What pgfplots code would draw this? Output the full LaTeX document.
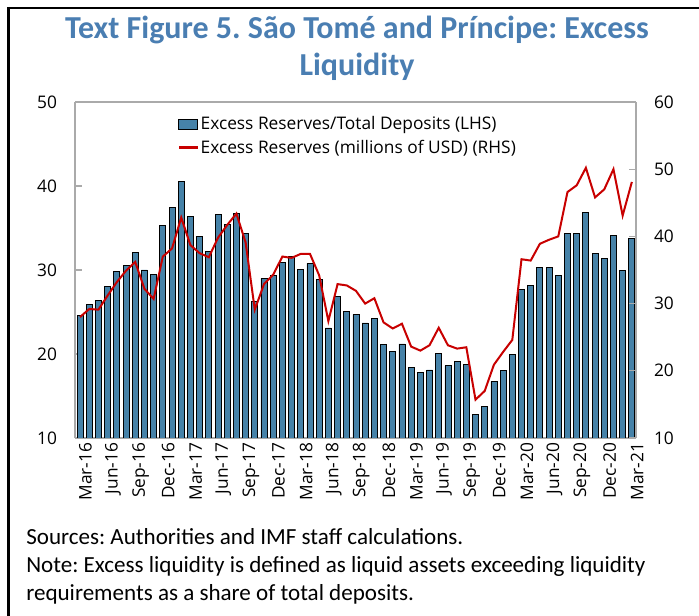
\documentclass[border=0pt]{standalone}
\usepackage{pgfplots}
\pgfplotsset{compat=1.18}
\usepackage{fontspec}
\setmainfont{Carlito}
\newfontfamily\segoe{Open Sans}
\definecolor{barblue}{RGB}{70,130,168}
\definecolor{titleblue}{RGB}{74,126,178}
\definecolor{linered}{RGB}{200,0,0}
\definecolor{axgray}{RGB}{170,170,170}
\frenchspacing

\pgfplotstableread{
x bar line
0 24.6 28.0
1 25.9 29.2
2 26.4 29.1
3 28.0 31.2
4 29.8 33.2
5 30.5 34.9
6 32.1 36.2
7 30.0 32.2
8 29.5 30.7
9 35.3 37.0
10 37.4 38.2
11 40.5 42.8
12 36.4 38.7
13 34.0 37.5
14 32.2 36.9
15 36.6 39.8
16 35.4 41.7
17 36.7 43.4
18 34.3 39.1
19 26.3 29.1
20 29.0 32.9
21 29.4 34.3
22 30.9 37.0
23 31.6 36.8
24 30.1 37.4
25 30.8 37.4
26 28.9 34.2
27 23.1 27.4
28 26.8 32.9
29 25.1 32.7
30 24.7 31.9
31 23.7 30.0
32 24.2 30.8
33 21.1 27.2
34 20.3 26.3
35 21.2 27.0
36 18.4 23.6
37 17.8 23.0
38 18.1 23.8
39 20.1 26.4
40 18.6 23.8
41 19.1 23.3
42 18.8 23.5
43 12.8 15.7
44 13.8 17.0
45 16.7 20.9
46 18.0 22.8
47 19.9 24.6
48 27.7 36.6
49 28.2 36.4
50 30.3 38.9
51 30.3 39.5
52 29.4 40.0
53 34.3 46.6
54 34.4 47.6
55 36.8 50.2
56 32.0 45.8
57 31.4 47.0
58 34.1 50.0
59 29.9 43.1
60 33.8 48.1
}\datatable

\pgfplotsset{
  common/.style={
    scale only axis,
    width=420.75pt, height=252pt,
    at={(56.25pt,133.5pt)}, anchor=south west,
    xmin=-0.55, xmax=60.45,
    axis line style={axgray, line width=0.8pt},
    major tick style={axgray, line width=0.8pt},
    tick align=inside,
    major tick length=5pt,
    /pgf/number format/assume math mode=true,
    tick label style={font=\segoe\fontsize{13}{15}\selectfont, black},
  }
}

\begin{document}
\begin{tikzpicture}
\path[use as bounding box] (0,0) rectangle (524.25pt,462pt);
% frame
\draw[line width=1.6pt] (6pt,456pt) -- (524.25pt,456pt);
\draw[line width=1.6pt] (6.4pt,456.8pt) -- (6.4pt,0pt);
% title
\node[anchor=base, text=titleblue, font=\bfseries\fontsize{24}{28}\selectfont] at (267.75pt,433pt) {Text Figure 5. São Tomé and Príncipe: Excess};
\node[anchor=base, text=titleblue, font=\bfseries\fontsize{24}{28}\selectfont] at (267.75pt,405pt) {Liquidity};
% notes
\node[anchor=base west, inner sep=0pt, font=\fontsize{17.3}{20}\selectfont] at (19.5pt,53.5pt) {Sources: Authorities and IMF staff calculations.};
\node[anchor=base west, inner sep=0pt, font=\fontsize{17.3}{20}\selectfont] at (19.5pt,32.5pt) {Note: Excess liquidity is defined as liquid assets exceeding liquidity};
\node[anchor=base west, inner sep=0pt, font=\fontsize{17.3}{20}\selectfont] at (19.5pt,11.5pt) {requirements as a share of total deposits.};

\begin{axis}[common,
  ymin=10, ymax=50, ytick={10,20,30,40,50},
  axis y line*=left, axis x line*=bottom,
  xtick={0,3,...,60},
  xticklabels={Mar-16,Jun-16,Sep-16,Dec-16,Mar-17,Jun-17,Sep-17,Dec-17,Mar-18,Jun-18,Sep-18,Dec-18,Mar-19,Jun-19,Sep-19,Dec-19,Mar-20,Jun-20,Sep-20,Dec-20,Mar-21},
  x tick label style={rotate=90, anchor=east},
  major x tick style={draw=none},
  yticklabel style={xshift=-10pt},
  xticklabel style={yshift=-4pt},
  clip=true,
]
\addplot[ybar, bar width=4.5pt, fill=barblue, draw=black, line width=0.6pt] table[x=x,y=bar] {\datatable};
\end{axis}

\begin{axis}[common,
  ymin=10, ymax=60, ytick={10,20,30,40,50,60},
  axis y line*=right, axis x line*=top,
  xtick=\empty,
  yticklabel style={xshift=10pt},
  legend style={at={(0.184,0.965)}, anchor=north west, draw=none, fill=none,
    font=\segoe\fontsize{13}{15}\selectfont, row sep=2pt, inner sep=0pt,
    /tikz/every even column/.append style={column sep=0pt}},
  legend cell align=left,
]
\addlegendimage{legend image code/.code={\draw[fill=barblue,draw=black,line width=0.6pt] (0pt,-4pt) rectangle (14pt,4pt);}}
\addlegendentry{Excess Reserves/Total Deposits (LHS)}
\addlegendimage{legend image code/.code={\fill[linered] (0pt,-0.75pt) rectangle (14pt,0.75pt);}}
\addlegendentry{Excess Reserves (millions of USD) (RHS)}
\addplot[linered, line width=1.5pt, forget plot] table[x=x,y=line] {\datatable};
\end{axis}
\end{tikzpicture}
\end{document}
